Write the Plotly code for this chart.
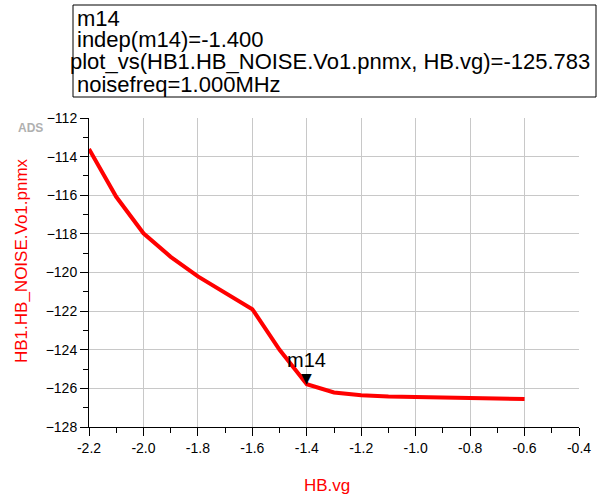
import plotly.graph_objects as go

# Swept gate voltage and phase-noise result
vg = [-2.2, -2.1, -2.0, -1.9, -1.8, -1.7, -1.6, -1.5, -1.4, -1.3, -1.2,
      -1.1, -1.0, -0.9, -0.8, -0.7, -0.6]
pnmx = [-113.6, -116.08, -117.97, -119.19, -120.2, -121.08, -121.9, -124.0,
        -125.783, -126.21, -126.35, -126.42, -126.45, -126.48, -126.5,
        -126.52, -126.55]

marker_name = "m14"
marker_x = -1.4
marker_y = -125.783

x_ticks = [-2.2, -2.0, -1.8, -1.6, -1.4, -1.2, -1.0, -0.8, -0.6, -0.4]
y_ticks = [-128, -126, -124, -122, -120, -118, -116, -114, -112]

x_title = "HB.vg"
y_title = "HB1.HB_NOISE.Vo1.pnmx"

FONT = "Liberation Sans, Arial, sans-serif"

fig = go.Figure()
fig.add_trace(go.Scatter(
    x=vg, y=pnmx, mode="lines",
    line=dict(color="#ff0000", width=4),
    hoverinfo="skip", showlegend=False,
))

L, R, T, B = 89, 18, 118, 72
W, H = 597, 499
pw, ph = W - L - R, H - T - B


def px(xp):
    return (xp - L) / pw


def py(yp):
    return (H - B - yp) / ph


fig.update_layout(
    width=W, height=H,
    margin=dict(l=L, r=R, t=T, b=B, autoexpand=False),
    paper_bgcolor="white", plot_bgcolor="white",
    font=dict(family=FONT, size=14, color="black"),
    xaxis=dict(
        range=[-2.2, -0.4], tickvals=x_ticks, automargin=False,
        ticktext=[f"{v:.1f}" for v in x_ticks],
        showgrid=True, gridcolor="#c8c8c8", gridwidth=1,
        zeroline=False, showline=True, linecolor="black", linewidth=1,
        ticks="outside", ticklen=8, tickcolor="black",
        minor=dict(dtick=0.1, ticks="outside", ticklen=5, tickcolor="black", showgrid=False),
        tickfont=dict(size=14, family=FONT),
    ),
    yaxis=dict(
        range=[-128, -112], tickvals=y_ticks, automargin=False,
        showgrid=True, gridcolor="#c8c8c8", gridwidth=1,
        zeroline=False, showline=True, linecolor="black", linewidth=1,
        ticks="outside", ticklen=8, tickcolor="black",
        minor=dict(dtick=1, ticks="outside", ticklen=5, tickcolor="black", showgrid=False),
        tickfont=dict(size=14, family=FONT),
    ),
)

# Axis titles
fig.add_annotation(xref="paper", yref="paper", x=px(327), y=py(485), text=x_title,
                   showarrow=False, xanchor="center", yanchor="middle",
                   font=dict(color="#ff0000", size=17, family=FONT))
fig.add_annotation(xref="paper", yref="paper", x=px(21), y=py(261), text=y_title,
                   textangle=-90, showarrow=False, xanchor="center", yanchor="middle",
                   font=dict(color="#ff0000", size=17, family=FONT))

# Marker readout box
fig.add_shape(type="rect", xref="paper", yref="paper",
              x0=px(73), x1=px(596), y0=py(97), y1=py(5),
              line=dict(color="black", width=1), fillcolor="white")

readout = [
    (marker_name, 75, 18),
    (f"indep({marker_name})={marker_x:.3f}", 75, 40),
    (f"plot_vs(HB1.HB_NOISE.Vo1.pnmx, HB.vg)={marker_y:.3f}", 68, 62),
    ("noisefreq=1.000MHz", 75, 84),
]
for text, xp, yp in readout:
    fig.add_annotation(xref="paper", yref="paper", x=px(xp), y=py(yp),
                       text=text, showarrow=False, xanchor="left", yanchor="middle",
                       font=dict(size=22, family=FONT, color="black"))

# Marker on the trace
fig.add_annotation(x=marker_x, y=marker_y, text="▼", showarrow=False,
                   xanchor="center", yanchor="bottom", yshift=-4,
                   font=dict(size=14, family="DejaVu Sans", color="black"))
fig.add_annotation(x=marker_x, y=marker_y, text=marker_name, showarrow=False,
                   xanchor="center", yanchor="bottom", yshift=11,
                   font=dict(size=20, family=FONT, color="black"))

# ADS badge
fig.add_annotation(xref="paper", yref="paper", x=px(30), y=py(128), text="<b>ADS</b>",
                   showarrow=False, xanchor="center", yanchor="middle",
                   font=dict(size=12, family=FONT, color="#b0b0b0"))

fig.write_html("out.html")
